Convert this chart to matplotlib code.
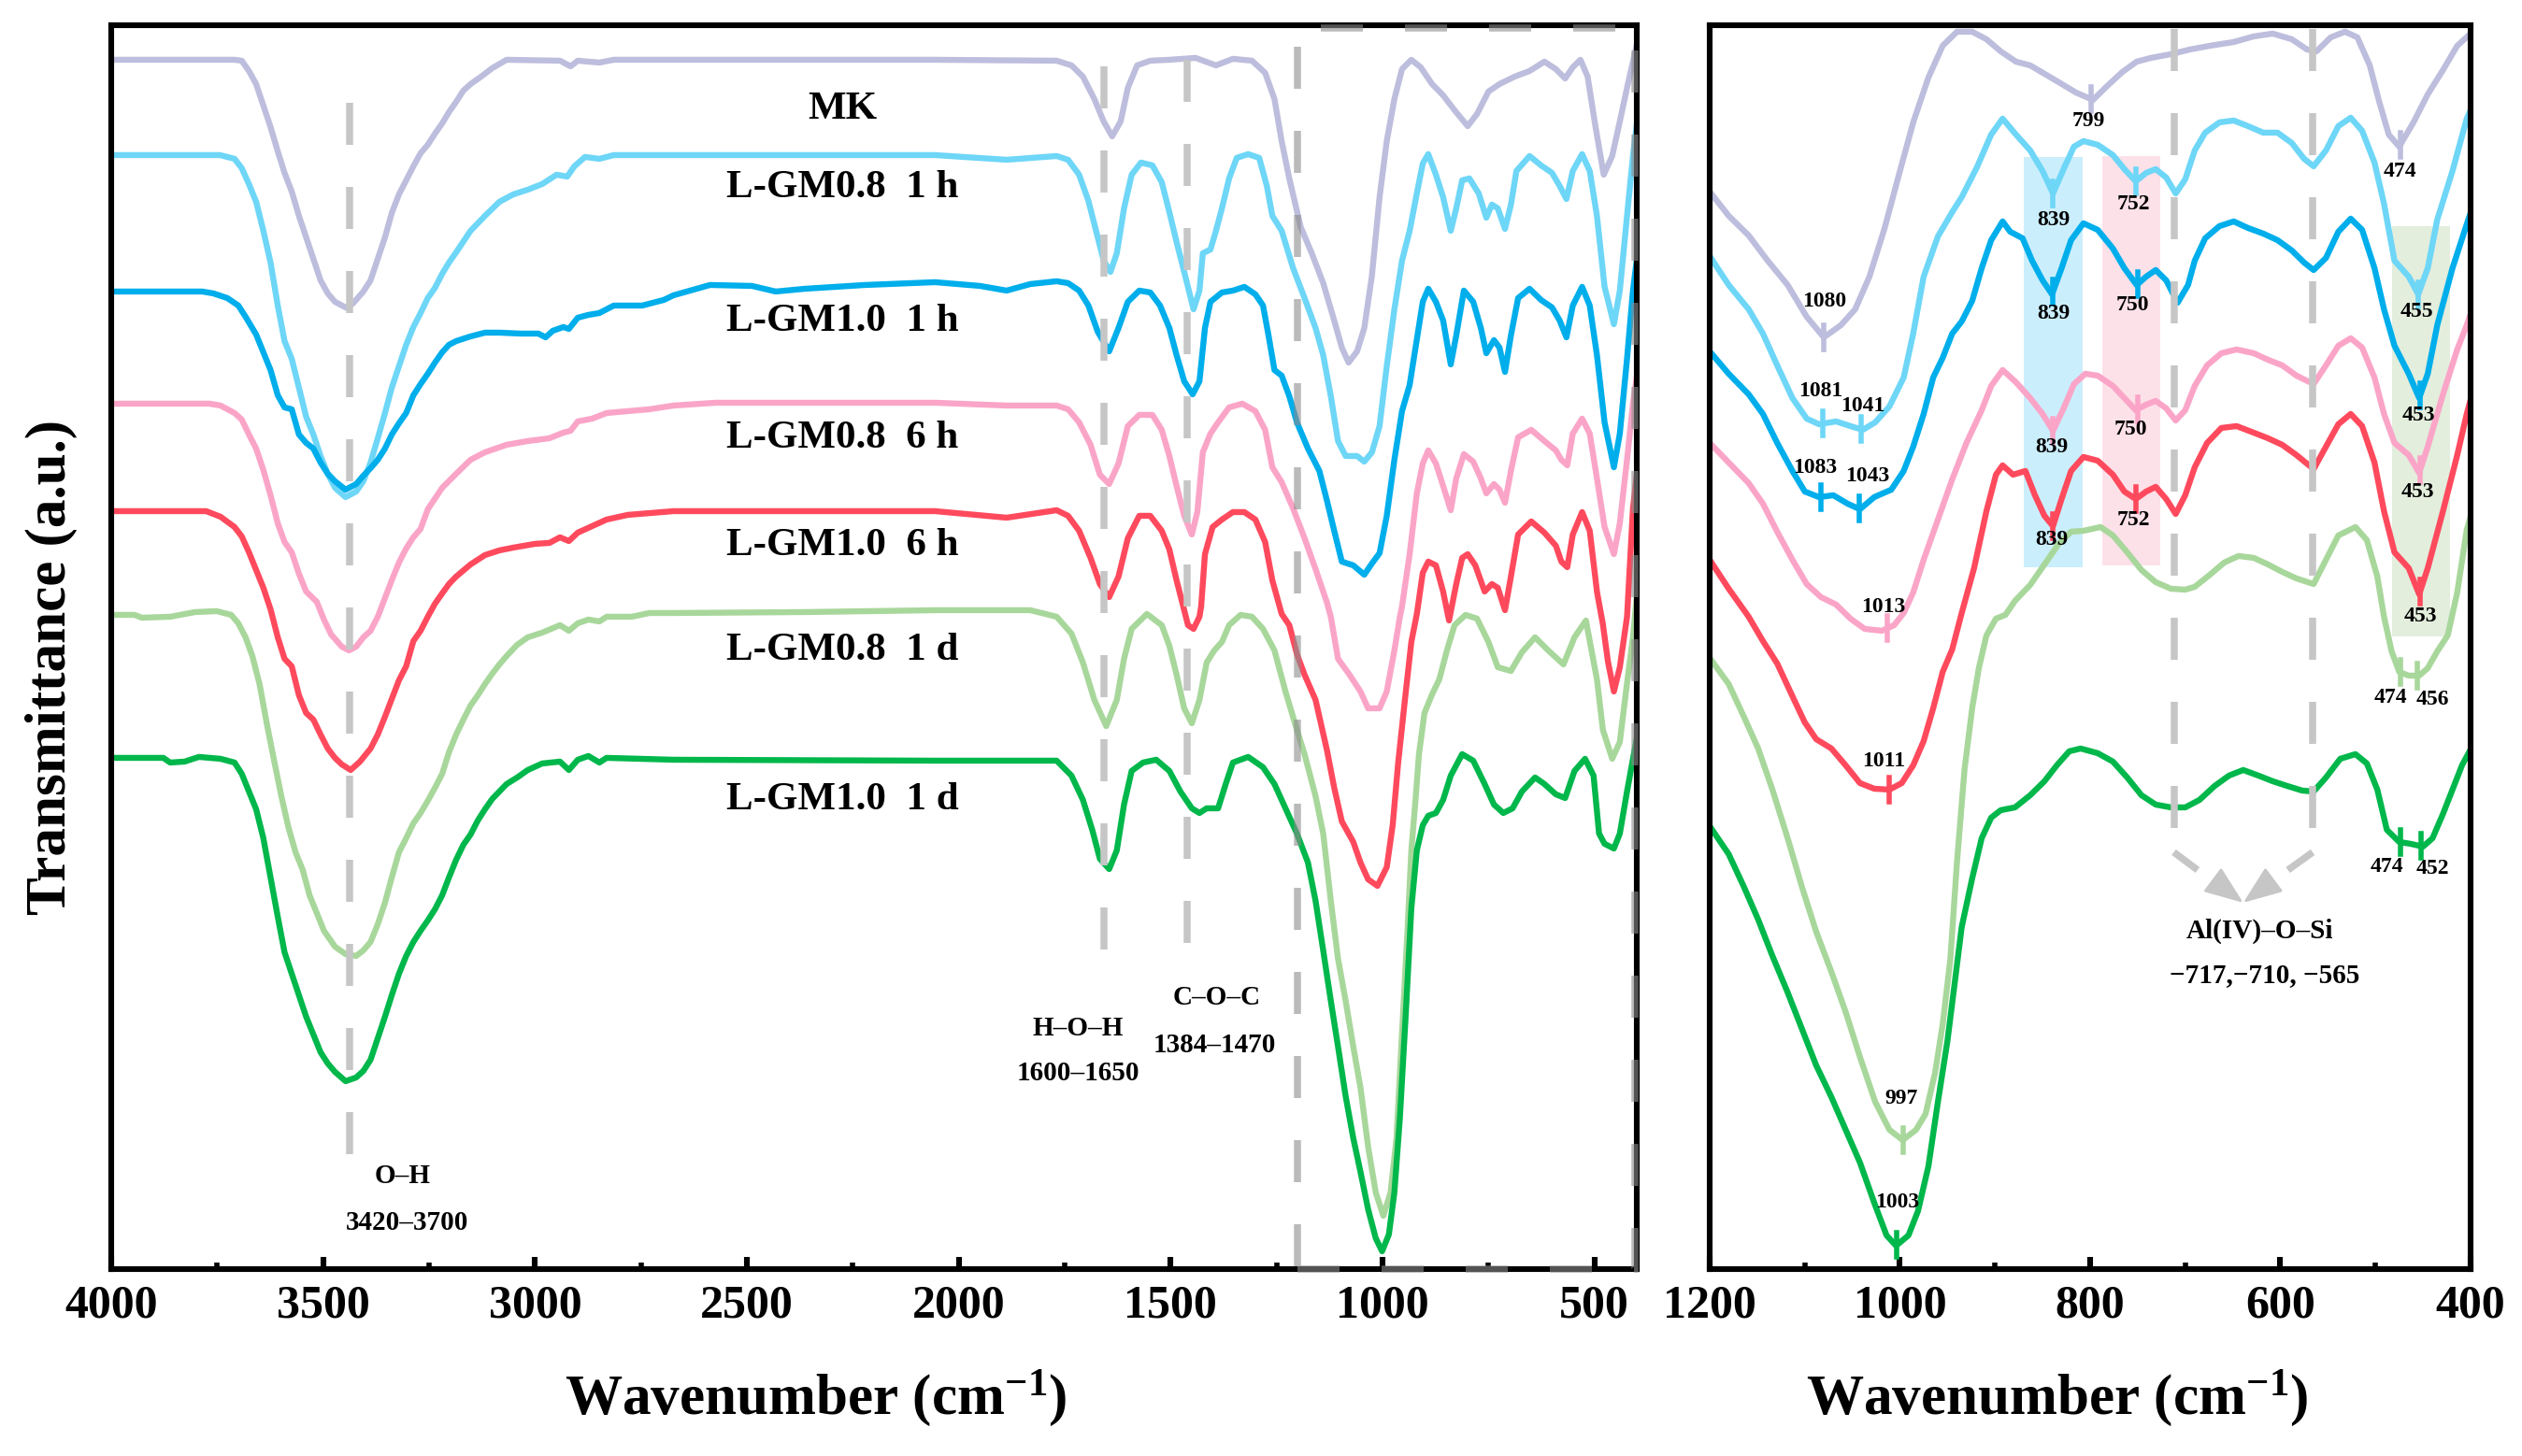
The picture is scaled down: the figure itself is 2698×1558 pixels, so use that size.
import numpy as np
import matplotlib
matplotlib.use('Agg')
import matplotlib.pyplot as plt
from matplotlib.ticker import MultipleLocator
from matplotlib.patches import Rectangle

plt.rcParams['font.family'] = ['Liberation Serif', 'DejaVu Serif']
plt.rcParams['font.weight'] = 'bold'
plt.rcParams['axes.labelweight'] = 'bold'
plt.rcParams['mathtext.fontset'] = 'custom'
plt.rcParams['mathtext.rm'] = 'Liberation Serif:bold'
plt.rcParams['mathtext.bf'] = 'Liberation Serif:bold'
plt.rcParams['mathtext.it'] = 'Liberation Serif:bold:italic'

names = ['MK', 'L-GM0.8  1 h', 'L-GM1.0  1 h', 'L-GM0.8  6 h',
         'L-GM1.0  6 h', 'L-GM0.8  1 d', 'L-GM1.0  1 d']
colors = ['#BDBDDD', '#6ED6F7', '#00AEEB', '#FAA5C8',
          '#FF4A5D', '#A8D79B', '#00B74B']

# full spectra, (wavenumber cm-1, transmittance a.u., stacked)
mk_full = [(4000,1294),(3709,1294),(3692,1293),(3675,1282),(3658,1268),(3641,1245),(3624,1222),(3607,1196),(3591,1173),(3574,1153),(3557,1127),(3540,1104),(3523,1081),(3506,1058),(3489,1044),(3472,1035),(3447,1029),(3430,1033),(3405,1046),(3388,1058),(3371,1081),(3354,1104),(3338,1130),(3321,1150),(3304,1165),(3287,1180),(3270,1194),(3253,1203),(3236,1215),(3219,1226),(3203,1238),(3186,1249),(3169,1261),(3152,1268),(3127,1276),(3101,1285),(3067,1294),(2941,1293),(2916,1287),(2899,1293),(2848,1291),(2814,1294),(2056,1294),(1769,1293),(1734,1288),(1707,1276),(1680,1252),(1658,1228),(1638,1212),(1618,1228),(1601,1264),(1579,1288),(1548,1293),(1503,1294),(1441,1296),(1393,1288),(1353,1295),(1308,1293),(1277,1280),(1255,1252),(1238,1207),(1220,1167),(1193,1115),(1167,1087),(1140,1055),(1114,1015),(1096,986),(1080,970),(1060,982),(1043,1007),(1025,1063),(1007,1147),(990,1207),(972,1252),(954,1284),(932,1294),(910,1286),(883,1268),(857,1256),(830,1240),(799,1223),(777,1236),(750,1260),(724,1268),(688,1276),(653,1282),(618,1292),(591,1284),(569,1274),(551,1286),(533,1294),(516,1276),(498,1224),(478,1171),(458,1191),(440,1228),(423,1264),(409,1292),(400,1310)]
lb_full = [(4000,1192),(3743,1192),(3709,1188),(3692,1178),(3675,1161),(3658,1142),(3641,1111),(3624,1077),(3607,1031),(3591,993),(3574,974),(3557,943),(3540,912),(3523,893),(3506,870),(3489,851),(3472,836),(3447,826),(3422,832),(3405,843),(3388,863),(3371,889),(3354,916),(3338,943),(3321,966),(3304,989),(3287,1008),(3270,1023),(3253,1039),(3236,1050),(3219,1065),(3203,1077),(3186,1088),(3152,1111),(3118,1127),(3084,1142),(3051,1150),(3017,1155),(2983,1161),(2949,1171),(2924,1169),(2907,1180),(2882,1190),(2848,1188),(2814,1192),(2500,1192),(2056,1192),(1887,1187),(1769,1191),(1742,1187),(1716,1171),(1694,1143),(1676,1111),(1658,1079),(1642,1067),(1627,1087),(1610,1135),(1592,1171),(1570,1184),(1543,1181),(1521,1163),(1503,1131),(1486,1099),(1468,1067),(1446,1027),(1432,1047),(1424,1087),(1406,1091),(1393,1111),(1379,1135),(1362,1167),(1344,1189),(1317,1193),(1291,1189),(1273,1159),(1260,1127),(1238,1111),(1211,1071),(1184,1039),(1158,1007),(1140,978),(1122,934),(1105,886),(1087,870),(1060,870),(1043,864),(1025,874),(1007,902),(990,966),(972,1027),(954,1079),(936,1111),(919,1151),(905,1183),(892,1193),(874,1171),(857,1147),(839,1111),(826,1135),(812,1165),(795,1167),(773,1151),(755,1125),(742,1139),(728,1135),(711,1113),(697,1139),(684,1175),(653,1191),(626,1181),(600,1173),(582,1159),(566,1145),(551,1175),(529,1193),(511,1175),(494,1127),(476,1051),(454,1011),(440,1047),(423,1127),(409,1191),(400,1225)]
blue_full = [(4000,1046),(3785,1046),(3759,1044),(3726,1039),(3700,1031),(3683,1019),(3658,1000),(3641,981),(3624,962),(3607,935),(3591,922),(3574,920),(3557,893),(3540,884),(3523,878),(3506,863),(3489,851),(3472,843),(3447,834),(3422,840),(3405,849),(3388,857),(3371,866),(3354,878),(3338,893),(3321,905),(3304,916),(3287,935),(3270,947),(3253,958),(3236,970),(3219,981),(3203,989),(3186,993),(3152,998),(3118,1002),(3084,1002),(3034,1001),(2992,1001),(2975,997),(2958,1004),(2933,1008),(2920,1006),(2899,1018),(2874,1021),(2848,1023),(2814,1031),(2747,1031),(2696,1037),(2673,1042),(2587,1053),(2488,1052),(2432,1046),(2362,1049),(2221,1053),(2056,1056),(1950,1052),(1887,1047),(1831,1054),(1769,1057),(1742,1055),(1716,1047),(1694,1031),(1672,1003),(1645,982),(1623,1007),(1601,1035),(1574,1047),(1548,1045),(1525,1031),(1503,1007),(1486,978),(1468,950),(1448,936),(1432,950),(1419,1007),(1406,1035),(1379,1045),(1353,1047),(1326,1051),(1300,1043),(1282,1031),(1269,999),(1255,962),(1238,956),(1220,934),(1202,906),(1176,878),(1149,854),(1131,822),(1114,790),(1096,757),(1069,753),(1043,743),(1025,755),(1007,766),(990,806),(972,866),(954,918),(936,946),(919,995),(905,1035),(892,1049),(874,1035),(857,1015),(839,968),(826,999),(808,1047),(786,1035),(768,1007),(755,980),(737,994),(724,986),(711,960),(697,999),(680,1039),(653,1049),(626,1037),(600,1029),(582,1015),(566,997),(551,1031),(529,1051),(511,1031),(494,978),(476,906),(454,858),(440,894),(423,974),(409,1047),(400,1080)]
pink_full = [(4000,926),(3768,926),(3742,924),(3709,916),(3692,909),(3675,893),(3658,878),(3641,855),(3624,828),(3607,798),(3591,778),(3574,767),(3557,744),(3540,725),(3515,714),(3498,695),(3481,679),(3456,666),(3439,662),(3422,666),(3405,676),(3388,683),(3371,698),(3354,718),(3338,737),(3321,756),(3304,771),(3287,783),(3270,792),(3253,813),(3219,836),(3186,851),(3152,866),(3118,874),(3067,882),(3017,886),(2966,889),(2933,895),(2916,897),(2899,907),(2865,910),(2831,916),(2781,918),(2730,920),(2673,924),(2573,927),(2056,927),(1887,924),(1769,924),(1742,920),(1716,906),(1689,882),(1667,850),(1645,840),(1623,862),(1601,902),(1574,914),(1543,914),(1521,898),(1503,870),(1486,838),(1468,806),(1450,786),(1437,810),(1424,874),(1406,894),(1388,906),(1362,922),(1331,926),(1300,918),(1277,898),(1260,858),(1238,842),(1211,814),(1184,782),(1158,749),(1131,713),(1122,698),(1105,653),(1078,636),(1052,618),(1034,600),(1007,600),(990,618),(972,662),(959,698),(954,709),(936,765),(919,830),(905,862),(892,876),(874,862),(857,838),(839,812),(826,846),(808,872),(786,864),(768,846),(755,830),(737,840),(724,834),(711,820),(697,854),(680,890),(649,898),(618,886),(591,876),(578,866),(564,860),(551,894),(529,910),(511,894),(494,846),(476,794),(454,765),(440,798),(423,866),(409,926),(400,955)]
red_full = [(4000,811),(3776,811),(3742,805),(3709,794),(3692,784),(3675,767),(3658,748),(3641,729),(3624,706),(3607,676),(3591,653),(3574,645),(3557,614),(3540,595),(3523,588),(3506,572),(3489,557),(3472,547),(3456,540),(3435,534),(3413,543),(3388,557),(3371,572),(3354,591),(3338,610),(3321,630),(3304,645),(3287,672),(3270,683),(3253,698),(3236,712),(3219,723),(3203,733),(3186,741),(3152,754),(3118,764),(3084,769),(3051,772),(3000,776),(2966,777),(2941,783),(2920,779),(2899,788),(2865,795),(2831,802),(2781,807),(2673,811),(2056,811),(1887,804),(1769,812),(1742,806),(1716,790),(1689,761),(1667,733),(1645,719),(1623,741),(1601,782),(1574,806),(1548,806),(1521,790),(1503,770),(1486,737),(1468,705),(1459,689),(1446,685),(1432,698),(1428,709),(1419,765),(1401,794),(1379,802),(1353,810),(1326,810),(1300,802),(1277,778),(1260,737),(1238,701),(1220,689),(1202,658),(1184,636),(1158,609),(1131,555),(1114,515),(1096,479),(1069,457),(1052,435),(1034,417),(1012,410),(990,430),(976,475),(963,542),(945,618),(932,671),(919,701),(905,745),(892,757),(874,753),(857,725),(843,694),(826,733),(812,761),(799,765),(781,753),(759,725),(742,733),(728,729),(711,705),(697,741),(680,786),(649,800),(618,788),(591,774),(578,757),(564,751),(551,786),(529,810),(511,790),(494,725),(480,690),(468,650),(454,618),(440,644),(423,698),(409,814),(400,850)]
lg_full = [(4000,700),(3945,700),(3928,697),(3861,698),(3802,703),(3751,704),(3717,700),(3700,691),(3683,676),(3667,656),(3650,626),(3633,584),(3616,545),(3599,507),(3582,473),(3565,446),(3548,427),(3532,400),(3515,381),(3498,362),(3472,345),(3447,337),(3422,335),(3405,341),(3388,350),(3371,369),(3354,392),(3338,419),(3321,446),(3304,461),(3287,477),(3270,488),(3253,501),(3236,515),(3219,530),(3203,553),(3186,572),(3169,588),(3152,603),(3135,614),(3118,626),(3101,637),(3084,647),(3067,656),(3042,668),(3017,676),(2983,681),(2941,689),(2920,683),(2899,691),(2874,695),(2848,693),(2831,698),(2772,698),(2730,702),(2673,702),(2362,703),(2056,705),(1831,705),(1769,698),(1734,680),(1707,649),(1680,609),(1652,581),(1627,609),(1610,653),(1592,685),(1556,701),(1521,689),(1503,667),(1486,636),(1468,600),(1450,584),(1432,609),(1415,649),(1397,662),(1379,671),(1362,689),(1335,700),(1308,698),(1282,685),(1255,662),(1229,618),(1202,577),(1184,551),(1158,506),(1140,466),(1122,394),(1105,332),(1087,287),(1069,238),(1052,194),(1034,131),(1016,82),(998,57),(981,82),(967,140),(954,252),(941,363),(932,448),(923,497),(914,551),(901,595),(883,615),(866,631),(848,662),(830,689),(804,700),(777,696),(750,671),(728,644),(697,640),(671,660),(640,676),(609,662),(573,647),(547,676),(520,694),(494,631),(480,577),(458,546),(440,564),(423,627),(409,676),(400,720)]
green_full = [(4000,547),(3877,547),(3861,542),(3827,543),(3793,548),(3742,546),(3709,542),(3692,530),(3675,511),(3658,492),(3641,461),(3624,419),(3607,377),(3591,339),(3574,316),(3557,293),(3540,270),(3523,251),(3506,232),(3489,220),(3472,211),(3447,201),(3422,205),(3405,212),(3388,224),(3371,247),(3354,270),(3338,293),(3321,316),(3304,335),(3287,350),(3270,362),(3253,373),(3236,385),(3219,400),(3203,419),(3186,438),(3169,454),(3152,465),(3135,480),(3118,492),(3101,503),(3084,511),(3067,519),(3042,526),(3017,534),(2983,541),(2941,543),(2920,534),(2899,545),(2874,549),(2848,542),(2831,547),(2673,545),(2056,544),(1769,544),(1734,528),(1707,502),(1685,470),(1667,439),(1645,428),(1627,448),(1610,497),(1592,533),(1565,542),(1534,545),(1503,533),(1477,511),(1450,493),(1432,488),(1415,493),(1388,493),(1370,519),(1353,542),(1317,548),(1282,537),(1255,519),(1229,493),(1202,466),(1176,435),(1158,394),(1140,341),(1122,287),(1105,238),(1087,185),(1069,140),(1052,104),(1034,64),(1016,33),(1001,19),(985,37),(972,82),(959,162),(945,274),(932,386),(919,448),(905,475),(892,485),(874,488),(857,502),(839,528),(812,551),(786,544),(759,519),(737,497),(715,488),(693,493),(671,511),(640,526),(618,519),(591,508),(569,504),(547,533),(522,546),(502,528),(489,466),(476,455),(454,450),(440,466),(423,511),(409,546),(400,568)]

# 1200-400 cm-1 region (right panel)
mk_zoom = [(1200,1153),(1180,1127),(1159,1106),(1139,1079),(1118,1053),(1098,1019),(1080,997),(1062,1010),(1047,1027),(1032,1062),(1016,1114),(1001,1171),(986,1227),(970,1275),(955,1309),(940,1324),(924,1324),(909,1316),(894,1303),(878,1292),(863,1288),(848,1279),(833,1270),(815,1259),(797,1251),(782,1266),(766,1281),(751,1292),(736,1296),(715,1300),(695,1305),(674,1309),(649,1313),(628,1319),(608,1322),(588,1316),(572,1305),(562,1303),(547,1318),(532,1324),(519,1318),(506,1288),(496,1249),(486,1214),(475,1201),(460,1227),(445,1257),(429,1283),(414,1309),(400,1322)]
lb_zoom = [(1200,1084),(1180,1053),(1159,1027),(1144,1001),(1129,967),(1113,932),(1098,910),(1085,904),(1067,907),(1052,902),(1039,898),(1026,906),(1011,923),(996,954),(986,1001),(975,1062),(960,1105),(945,1131),(935,1147),(919,1179),(904,1214),(892,1231),(878,1214),(863,1197),(850,1175),(839,1151),(827,1179),(817,1201),(807,1207),(792,1203),(776,1192),(764,1177),(752,1164),(741,1173),(731,1177),(720,1168),(710,1151),(700,1166),(690,1197),(679,1216),(664,1227),(649,1229),(634,1223),(618,1216),(603,1216),(588,1205),(575,1188),(565,1180),(552,1197),(539,1223),(526,1232),(514,1218),(501,1184),(491,1140),(480,1079),(465,1062),(455,1043),(445,1071),(435,1123),(419,1175),(404,1231),(400,1240)]
blue_zoom = [(1200,982),(1180,958),(1159,936),(1144,915),(1129,884),(1113,854),(1100,832),(1085,826),(1070,828),(1055,819),(1042,813),(1027,826),(1009,834),(996,854),(986,880),(975,915),(965,954),(955,975),(945,1001),(935,1014),(924,1036),(914,1071),(904,1101),(892,1121),(884,1110),(871,1103),(861,1079),(850,1058),(840,1043),(830,1071),(820,1101),(807,1119),(792,1112),(776,1092),(764,1071),(751,1053),(741,1062),(731,1069),(720,1058),(708,1034),(697,1053),(690,1079),(679,1103),(664,1116),(649,1121),(634,1114),(618,1108),(603,1101),(588,1090),(575,1077),(565,1069),(552,1082),(539,1110),(526,1124),(514,1112),(501,1071),(491,1027),(480,988),(465,958),(454,932),(445,958),(435,1010),(419,1071),(404,1118),(400,1130)]
pink_zoom = [(1200,884),(1180,863),(1159,841),(1144,819),(1129,789),(1113,759),(1098,733),(1083,719),(1067,711),(1052,696),(1037,685),(1019,683),(1006,689),(996,702),(986,724),(975,759),(960,802),(945,845),(930,884),(914,919),(904,945),(892,962),(878,949),(863,932),(850,915),(839,897),(827,923),(817,947),(805,958),(792,956),(776,945),(764,932),(752,919),(741,925),(731,929),(720,921),(710,908),(700,919),(690,945),(677,967),(662,980),(646,984),(628,980),(613,973),(598,967),(583,956),(565,947),(552,967),(539,988),(526,996),(514,986),(501,954),(491,915),(480,884),(465,871),(454,852),(445,880),(429,936),(414,984),(404,1010),(400,1022)]
red_zoom = [(1200,759),(1180,728),(1159,698),(1144,672),(1129,648),(1113,613),(1100,585),(1088,567),(1072,557),(1057,539),(1042,520),(1027,514),(1011,513),(998,520),(986,539),(975,565),(965,600),(955,639),(945,663),(935,702),(922,750),(909,811),(899,850),(892,860),(881,850),(868,854),(858,828),(848,806),(839,795),(830,824),(820,854),(807,869),(792,865),(776,850),(764,832),(752,824),(741,832),(731,837),(720,824),(710,808),(700,828),(690,858),(677,884),(662,900),(646,902),(628,895),(613,889),(598,882),(583,871),(565,856),(552,880),(539,904),(526,915),(514,902),(501,863),(491,811),(480,767),(465,750),(454,722),(445,750),(429,811),(414,871),(404,915),(400,930)]
lg_zoom = [(1200,654),(1180,626),(1164,591),(1149,557),(1134,513),(1118,461),(1103,409),(1088,361),(1072,318),(1057,275),(1042,227),(1026,179),(1011,149),(997,138),(983,149),(973,166),(963,210),(955,262),(947,331),(940,435),(932,535),(924,600),(917,643),(909,678),(899,696),(889,700),(879,715),(863,732),(848,754),(833,776),(820,789),(807,790),(789,794),(776,785),(761,767),(746,748),(731,735),(715,728),(700,727),(690,730),(674,743),(659,756),(644,763),(628,761),(613,754),(598,746),(583,739),(565,733),(552,759),(539,785),(521,794),(509,780),(498,741),(491,698),(483,661),(475,639),(465,635),(454,635),(445,643),(435,661),(424,678),(414,724),(404,791),(400,805)]
green_zoom = [(1200,474),(1180,444),(1164,409),(1149,374),(1134,335),(1118,296),(1103,257),(1088,218),(1072,184),(1057,149),(1042,114),(1027,71),(1014,36),(1004,25),(991,36),(981,62),(970,110),(960,179),(950,244),(942,309),(935,366),(924,418),(914,461),(904,483),(894,491),(879,494),(863,507),(848,522),(835,539),(822,554),(810,557),(792,552),(776,543),(761,526),(746,507),(731,497),(715,494),(700,494),(685,502),(669,517),(654,528),(639,534),(623,528),(608,522),(593,517),(577,512),(565,511),(552,526),(537,546),(521,551),(509,541),(498,513),(488,470),(475,457),(463,455),(450,452),(440,461),(429,487),(419,513),(409,539),(400,556)]

full = [mk_full, lb_full, blue_full, pink_full, red_full, lg_full, green_full]
zoom = [mk_zoom, lb_zoom, blue_zoom, pink_zoom, red_zoom, lg_zoom, green_zoom]

# marked peaks in the right panel, per series
peaks = [[1080, 799, 474],
         [1081, 1041, 839, 752, 455],
         [1083, 1043, 839, 750, 453],
         [1013, 839, 750, 453],
         [1011, 839, 752, 453],
         [997, 474, 456],
         [1003, 474, 452]]

GRAY = '#C6C6C6'
FS_TICK = 18
FS_LAB = 22

fig = plt.figure(figsize=(13.49, 7.79), dpi=200)
ax1 = fig.add_axes([0.0441, 0.1284, 0.6049, 0.8543])
ax2 = fig.add_axes([0.6779, 0.1284, 0.3017, 0.8543])

for i in range(7):
    d = np.array(full[i])
    ax1.plot(d[:, 0], d[:, 1], color=colors[i], lw=2.3, zorder=2,
             solid_joinstyle='round')
    d = np.array(zoom[i])
    ax2.plot(d[:, 0], d[:, 1], color=colors[i], lw=2.3, zorder=2,
             solid_joinstyle='round')

# series names
name_y = [1241, 1157, 1014, 889, 774, 662, 502]
for n, y in zip(names, name_y):
    ax1.text(2275, y, n, ha='center', va='center', fontsize=15.5, fontweight='bold')

# band guides, left panel
for wn, y0, y1 in [(3438, 94, 1248), (1657, 319, 1287), (1460, 326, 1294)]:
    ax1.plot([wn, wn], [y1, y0], color=GRAY, lw=2.7, dashes=(6, 6), zorder=3)
ax1.add_patch(Rectangle((1200, 0), -796, 1328, fill=False, edgecolor='#8C8C8C',
                        alpha=0.6, lw=2.7, ls=(0, (6, 6)), zorder=4, clip_on=False))

ann = dict(ha='center', va='center', fontsize=10.5, fontweight='bold')
ax1.text(3312, 99, 'O–H', **ann)
ax1.text(3301, 49, '3420–3700', **ann)
ax1.text(1718, 257, 'H–O–H', **ann)
ax1.text(1718, 209, '1600–1650', **ann)
ax1.text(1392, 290, 'C–O–C', **ann)
ax1.text(1396, 239, '1384–1470', **ann)

# shaded bands, right panel
ax2.add_patch(Rectangle((870, 751), -62, 439, color='#CBEEFC', lw=0, zorder=1))
ax2.add_patch(Rectangle((787, 753), -61, 438, color='#FDE1E9', lw=0, zorder=1))
ax2.add_patch(Rectangle((483, 677), -61, 439, color='#E3EEDD', lw=0, zorder=1))

# peak markers
for i in range(7):
    d = np.array(zoom[i])[::-1]
    for p in peaks[i]:
        y = np.interp(p, d[:, 0], d[:, 1])
        ax2.plot([p, p], [y - 13, y + 13], color=colors[i], lw=2.0, zorder=2)

peak_text = [(802, 1228, '799'), (1079, 1035, '1080'), (474, 1174, '474'),
             (838, 1122, '839'), (754, 1139, '752'), (1083, 939, '1081'),
             (1039, 923, '1041'), (457, 1024, '455'),
             (838, 1022, '839'), (755, 1031, '750'), (1089, 857, '1083'),
             (1034, 848, '1043'), (455, 913, '453'),
             (840, 879, '839'), (757, 898, '750'), (456, 831, '453'),
             (1017, 708, '1013'),
             (840, 780, '839'), (754, 801, '752'), (453, 698, '453'),
             (1017, 543, '1011'),
             (484, 611, '474'), (440, 609, '456'), (998, 182, '997'),
             (1003, 71, '1003'), (488, 430, '474'), (440, 428, '452')]
for x, y, t in peak_text:
    ax2.text(x, y, t, ha='center', va='center', fontsize=8.5, fontweight='bold', zorder=5)

# Al(IV)-O-Si guides
for wn, wn_d, wn_h in [(712, 687, 664), (566, 592, 614)]:
    ax2.plot([wn, wn], [1327, 452], color=GRAY, lw=2.7, dashes=(6, 6), zorder=3)
    ax2.plot([wn, wn_d], [446, 427], color=GRAY, lw=2.7, zorder=3,
             solid_capstyle='butt')
    ax2.annotate('', xy=(639, 392), xytext=(wn_h, 411),
                 arrowprops=dict(arrowstyle='-|>,head_length=1.3,head_width=0.5',
                                 color=GRAY, lw=1.0, mutation_scale=10,
                                 shrinkA=0, shrinkB=0), zorder=3)
ax2.text(622, 362, 'Al(IV)–O–Si', **ann)
ax2.text(616, 314, '−717,−710, −565', **ann)

# axes
for ax, lim, maj, mnr in [(ax1, (4000, 400), 500, 250), (ax2, (1200, 400), 200, 100)]:
    ax.set_xlim(*lim)
    ax.set_ylim(0, 1331)
    ax.set_yticks([])
    ax.xaxis.set_major_locator(MultipleLocator(maj))
    ax.xaxis.set_minor_locator(MultipleLocator(mnr))
    ax.tick_params(axis='x', which='major', direction='in', length=4.7, width=2.2,
                   labelsize=FS_TICK, pad=6, top=False)
    ax.tick_params(axis='x', which='minor', direction='in', length=2.4, width=2.0, top=False)
    for s in ax.spines.values():
        s.set_linewidth(2.2)
    for lab in ax.get_xticklabels():
        lab.set_fontweight('bold')
    ax.set_xlabel('Wavenumber (cm$^{-1}$)', fontsize=FS_LAB, fontweight='bold')
    ax.xaxis.label.set_verticalalignment('center')

ax1.xaxis.set_label_coords(0.462, -0.104)
ax2.xaxis.set_label_coords(0.457, -0.104)

fig.text(55 / 2698, 1 - 714 / 1558, 'Transmittance (a.u.)', rotation=90,
         ha='center', va='center', fontsize=FS_LAB, fontweight='bold')

fig.savefig('out.png', dpi=200)
